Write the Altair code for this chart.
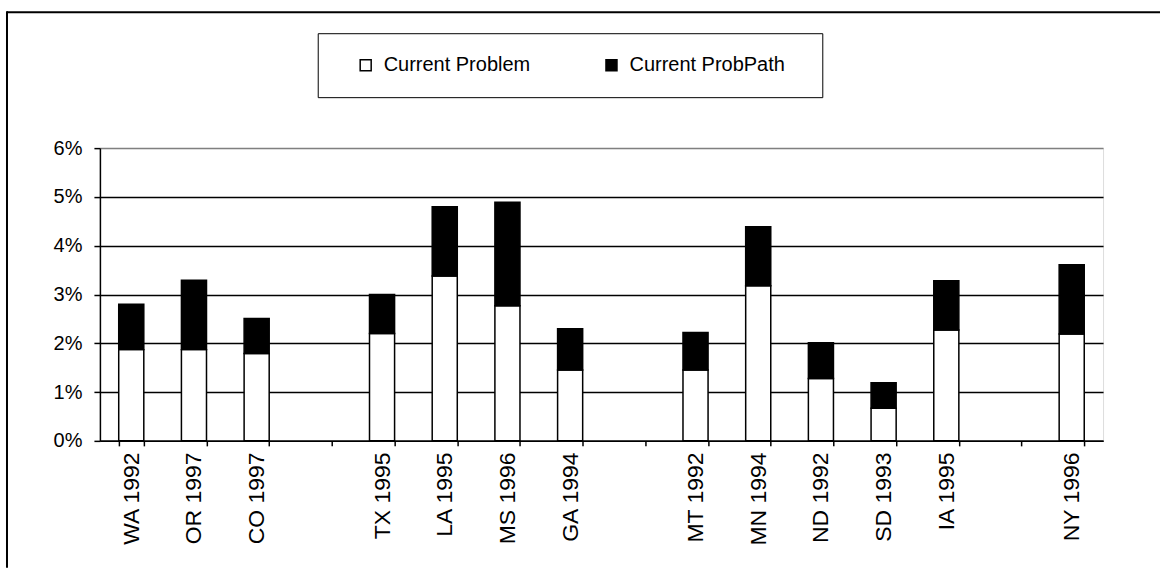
import altair as alt
import pandas as pd

# Categories (empty slots keep the gaps between regions)
categories = ["WA 1992", "OR 1997", "CO 1997", "gap1",
              "TX 1995", "LA 1995", "MS 1996", "GA 1994", "gap2",
              "MT 1992", "MN 1994", "ND 1992", "SD 1993", "IA 1995", "gap3",
              "NY 1996"]
states = ["WA 1992", "OR 1997", "CO 1997", "TX 1995", "LA 1995", "MS 1996",
          "GA 1994", "MT 1992", "MN 1994", "ND 1992", "SD 1993", "IA 1995", "NY 1996"]
current_problem = [0.0187, 0.0187, 0.0179, 0.0220, 0.0338, 0.0277, 0.0145,
                   0.0145, 0.0318, 0.0128, 0.0067, 0.0227, 0.0219]
current_total = [0.0280, 0.0329, 0.0251, 0.0300, 0.0480, 0.0489, 0.0230,
                 0.0222, 0.0439, 0.0201, 0.0119, 0.0328, 0.0361]
series = ["Current Problem", "Current ProbPath"]

rows = []
for s, p, t in zip(states, current_problem, current_total):
    rows.append({"cat": s, "series": series[0], "value": p, "ord": 0})
    rows.append({"cat": s, "series": series[1], "value": round(t - p, 4), "ord": 1})
df = pd.DataFrame(rows)

pad_chars = "\u2800"
bars = alt.Chart(df).mark_bar(stroke="black", strokeWidth=1.5).encode(
    x=alt.X("cat:N", sort=categories,
            scale=alt.Scale(domain=categories, paddingInner=0.6, paddingOuter=0.3),
            axis=alt.Axis(title=None, labelAngle=270, labelAlign="right",
                          labelBaseline="middle", labelFontSize=23, labelPadding=6,
                          labelColor="black", labelFont="Liberation Sans",
                          tickBand="extent", tickSize=5, tickColor="black", tickWidth=1.5,
                          domainColor="black", domainWidth=1.5,
                          labelExpr="indexof(datum.label, 'gap') == 0 ? '' : datum.label")),
    y=alt.Y("value:Q", stack="zero",
            scale=alt.Scale(domain=[0, 0.06], nice=False),
            axis=alt.Axis(title=None, format=".0%", values=[0, 0.01, 0.02, 0.03, 0.04, 0.05, 0.06],
                          labelFontSize=20, labelFont="Liberation Sans", labelColor="black",
                          labelPadding=12, tickSize=6, tickColor="black", tickWidth=1.5,
                          domainColor="black", domainWidth=1.5,
                          grid=True, gridWidth=1.5,
                          gridColor=alt.condition("datum.value >= 0.06", alt.value("#808080"), alt.value("black")))),
    fill=alt.Fill("series:N",
                  scale=alt.Scale(domain=series, range=["white", "black"]),
                  legend=alt.Legend(orient="none", legendX=218, legendY=-115,
                                    direction="horizontal", columns=2,
                                    title=" ", titleOrient="left", titlePadding=16,
                                    titleFontSize=20,
                                    labelFontSize=20, labelFont="Liberation Sans",
                                    labelColor="black", labelOffset=8, labelLimit=400,
                                    labelExpr=f"datum.value == 'Current ProbPath' ? datum.label + '{pad_chars}' : datum.label",
                                    symbolType="square", symbolSize=121,
                                    symbolStrokeColor="black", symbolStrokeWidth=1.5,
                                    columnPadding=71, padding=22,
                                    strokeColor="black", fillColor="white")),
    order=alt.Order("ord:Q"),
)

frame_df = pd.DataFrame({"a": [0]})
top_rule = alt.Chart(frame_df).mark_rule(color="black", strokeWidth=2).encode(
    x=alt.value(-93), x2=alt.value(1061), y=alt.value(-136))
left_rule = alt.Chart(frame_df).mark_rule(color="black", strokeWidth=2).encode(
    x=alt.value(-93), y=alt.value(-137), y2=alt.value(420))

chart = alt.layer(bars, top_rule, left_rule).properties(
    width=1004, height=293,
    padding={"left": 6, "top": 10, "right": 0, "bottom": 0},
    background="white",
).configure_view(stroke="#808080", strokeWidth=1.5).configure(font="Liberation Sans")

chart.save("out.html", embed_options={"renderer": "svg", "actions": False})
